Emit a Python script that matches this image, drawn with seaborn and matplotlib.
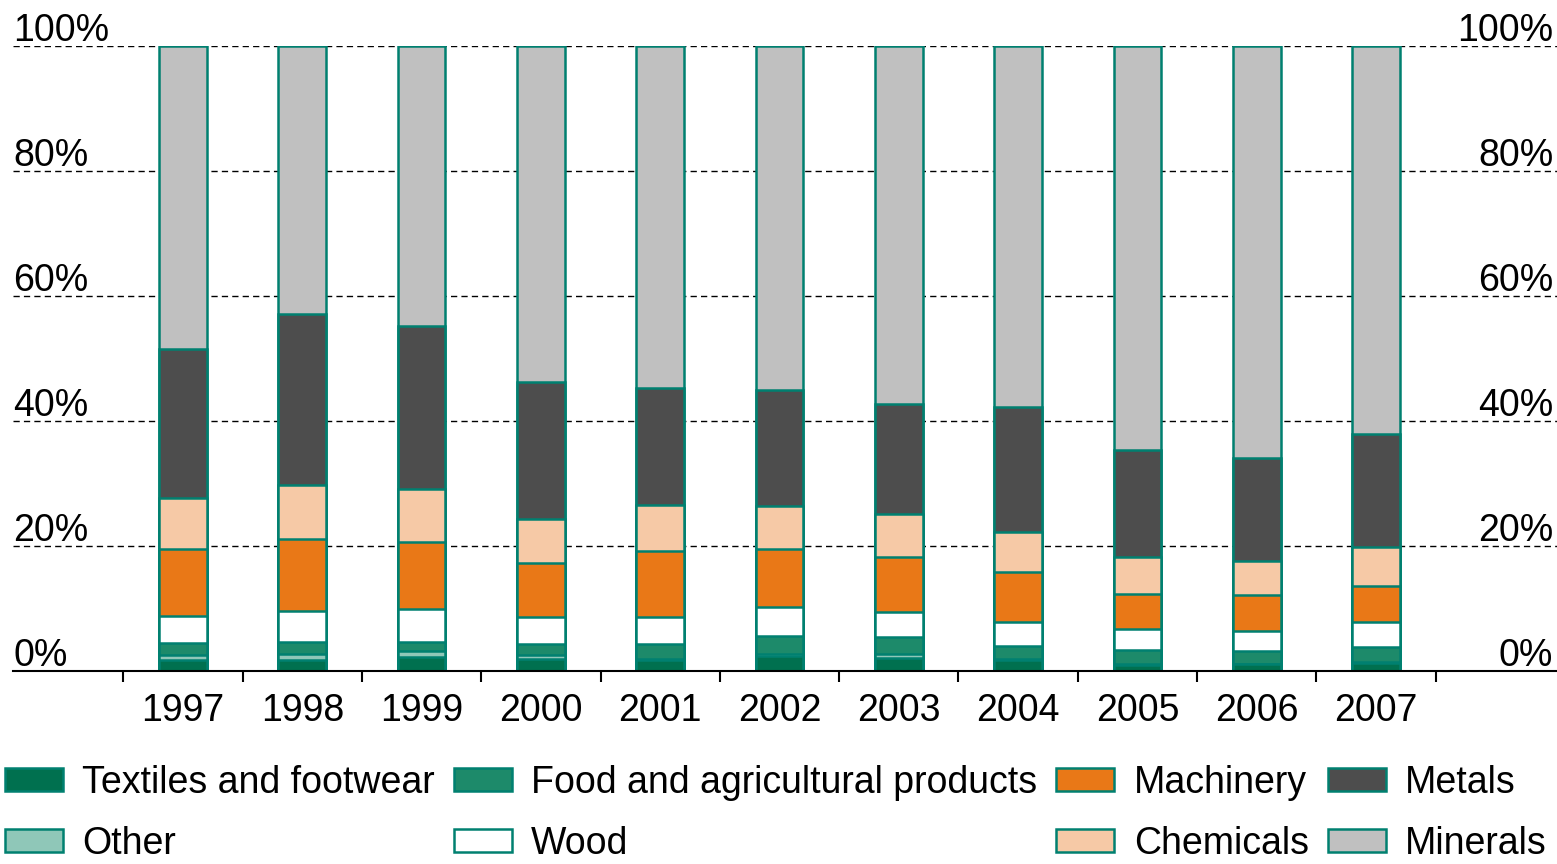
import matplotlib
matplotlib.use("Agg")
import matplotlib.pyplot as plt
import matplotlib.transforms as mtransforms
from matplotlib.patches import Patch
import seaborn as sns
import numpy as np
import pandas as pd

years = ["1997", "1998", "1999", "2000", "2001", "2002", "2003", "2004", "2005", "2006", "2007"]
textiles = [1.8, 1.8, 2.3, 2.0, 1.8, 2.4, 2.1, 1.7, 1.0, 1.1, 1.3]
other = [0.7, 0.9, 0.9, 0.6, 0.2, 0.3, 0.6, 0.3, 0.2, 0.1, 0.1]
food = [2.0, 2.0, 1.5, 1.7, 2.3, 2.9, 2.7, 2.0, 2.2, 2.0, 2.5]
wood = [4.3, 4.9, 5.2, 4.3, 4.3, 4.6, 4.0, 3.9, 3.4, 3.2, 3.9]
machinery = [10.7, 11.5, 10.7, 8.7, 10.6, 9.4, 8.9, 7.9, 5.6, 5.8, 5.8]
chemicals = [8.2, 8.7, 8.5, 7.1, 7.4, 6.8, 6.9, 6.4, 5.9, 5.4, 6.3]
metals = [23.9, 27.3, 26.1, 21.8, 18.7, 18.6, 17.6, 20.1, 17.1, 16.5, 18.0]
minerals = [48.4, 42.9, 44.8, 53.8, 54.7, 55.0, 57.2, 57.7, 64.6, 65.9, 62.1]

series_names = ["Textiles and footwear", "Other", "Food and agricultural products", "Wood",
                "Machinery", "Chemicals", "Metals", "Minerals"]
series_vals = [textiles, other, food, wood, machinery, chemicals, metals, minerals]
colors = ["#00704F", "#8FC7B8", "#1D8A6A", "#FFFFFF", "#E97817", "#F6C9A6", "#4D4D4D", "#C0C0C0"]
edge = "#008070"

sns.set_theme(style="white")
plt.rcParams["font.family"] = ["Liberation Sans", "DejaVu Sans"]
plt.rcParams["text.color"] = "black"
plt.rcParams["xtick.color"] = "black"

FS = 27

fig = plt.figure(figsize=(15.57, 8.64), dpi=100)
ax = fig.add_axes([13 / 1557, 1 - 671 / 864, 1 - 13 / 1557, (671 - 46) / 864])

cum = np.zeros(len(years))
cums = []
for vals in series_vals:
    cum = cum + np.array(vals)
    cums.append(cum.copy())

# draw from top of stack downward so lower segments overlay the cumulative bars
for name, c, col in reversed(list(zip(series_names, cums, colors))):
    d = pd.DataFrame({"year": years, "value": c})
    sns.barplot(data=d, x="year", y="value", color=col, saturation=1, width=0.4,
                errorbar=None, edgecolor=edge, linewidth=1.8, ax=ax, zorder=3)

ax.set_ylim(0, 100)
ax.set_xlim(-1.425, 11.517)
ax.set_xlabel("")
ax.set_ylabel("")

for s in ["top", "right", "left"]:
    ax.spines[s].set_visible(False)
ax.spines["bottom"].set_color("black")
ax.spines["bottom"].set_linewidth(1.5)
ax.spines["bottom"].set_zorder(5)

ax.set_yticks([0, 20, 40, 60, 80, 100])
ax.set_yticklabels([])
ax.tick_params(axis="y", length=0)
for yv in [20, 40, 60, 80, 100]:
    ax.axhline(yv, color="black", linestyle=(0, (4.5, 3)), linewidth=1.0, zorder=1)

trans = mtransforms.blended_transform_factory(ax.transAxes, ax.transData)
for yv in [0, 20, 40, 60, 80, 100]:
    lab = f"{yv}%"
    ax.text(0.0, yv + 0.75, lab, transform=trans, ha="left", va="baseline", fontsize=FS, color="black")
    ax.text(0.9975, yv + 0.75, lab, transform=trans, ha="right", va="baseline", fontsize=FS, color="black")

ax.set_xticks(range(len(years)))
ax.set_xticklabels(years, fontsize=FS, color="black")
ax.set_xticks(np.arange(-0.5, len(years), 1.0), minor=True)
ax.tick_params(axis="x", which="major", length=0, pad=16, colors="black")
ax.tick_params(axis="x", which="minor", length=8, width=1.5, direction="out", color="black")
ax.xaxis.set_ticks_position("bottom")

order = ["Textiles and footwear", "Other", "Food and agricultural products", "Wood",
         "Machinery", "Chemicals", "Metals", "Minerals"]
cmap = dict(zip(series_names, colors))
handles = [Patch(facecolor=cmap[n], edgecolor=edge, linewidth=1.8, label=n) for n in order]
leg = fig.legend(handles=handles, loc="upper left", bbox_to_anchor=(0.003, 1 - 765 / 864), ncol=4,
                 frameon=False, fontsize=FS, handlelength=1.55, handleheight=0.55,
                 handletextpad=0.52, columnspacing=0.5, labelspacing=0.66, borderpad=0,
                 borderaxespad=0)
for t in leg.get_texts():
    t.set_color("black")

fig.savefig("out.png", dpi=100)
